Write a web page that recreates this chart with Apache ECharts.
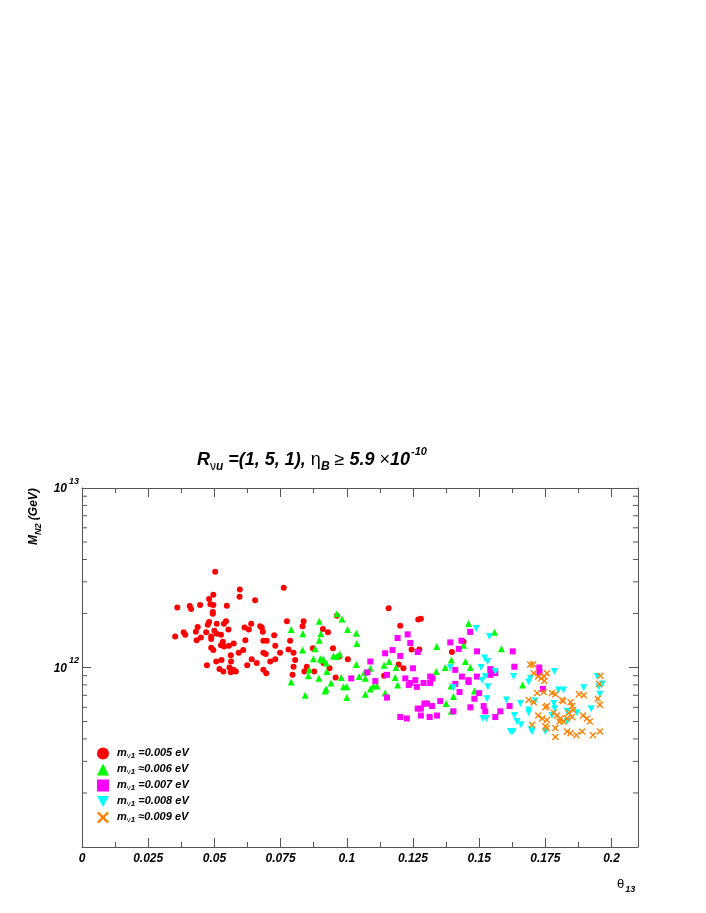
<!DOCTYPE html>
<html>
<head>
<meta charset="utf-8">
<script src="https://cdn.jsdelivr.net/npm/echarts@6/dist/echarts.min.js"></script>
<style>
  html, body { margin: 0; padding: 0; background: #fff; }
  #main { width: 706px; height: 913px; }
</style>
</head>
<body>
<div id="main"></div>
<script>
// theta13, M_N2 in units of 1e12 GeV
const red = [
  [0.0503,3.42],[0.0596,2.72],[0.0595,2.48],[0.0496,2.54],[0.048,2.41],[0.0485,2.25],[0.0496,2.23],[0.0446,2.23],
  [0.0407,2.20],[0.0412,2.12],[0.036,2.16],[0.0547,2.21],[0.0654,2.37],[0.0494,2.04],[0.0494,1.99],[0.048,1.79],
  [0.0509,1.75],[0.0536,1.75],[0.0544,1.81],[0.0475,1.73],[0.0437,1.68],[0.043,1.58],[0.0384,1.57],[0.039,1.52],
  [0.0352,1.49],[0.0433,1.42],[0.0449,1.47],[0.0469,1.57],[0.0488,1.49],[0.05,1.60],[0.0509,1.54],[0.0525,1.52],
  [0.0488,1.44],[0.0553,1.63],[0.0532,1.39],[0.0525,1.33],[0.0537,1.31],[0.0573,1.36],[0.0555,1.32],[0.0614,1.67],
  [0.063,1.63],[0.0639,1.75],[0.0617,1.42],[0.0488,1.29],[0.0496,1.25],[0.0609,1.25],[0.0592,1.21],[0.0562,1.17],
  [0.0507,1.08],[0.0527,1.10],[0.0563,1.08],[0.0641,1.11],[0.066,1.06],[0.0624,1.03],[0.0472,1.03],[0.0519,0.98],
  [0.0534,0.95],[0.0557,1.0],[0.0562,0.94],[0.0581,0.95],[0.0572,0.97],[0.0673,1.70],[0.0762,2.78],[0.0679,1.67],
  [0.0683,1.58],[0.0726,1.51],[0.0685,1.41],[0.0698,1.41],[0.073,1.32],[0.0685,1.21],[0.0694,1.19],[0.0748,1.21],
  [0.073,1.11],[0.0711,1.08],[0.0685,0.97],[0.0696,0.93],[0.0774,1.81],[0.0837,1.81],[0.0833,1.70],[0.0786,1.41],
  [0.078,1.26],[0.0799,1.21],[0.0805,1.10],[0.0799,1.01],[0.0849,1.01],[0.084,0.95],[0.0795,0.91],[0.0877,0.95],
  [0.0872,1.28],[0.091,1.64],[0.0929,1.57],[0.0948,1.28],[0.0935,0.99],[0.0912,1.06],[0.0958,0.88],[0.1004,1.11],
  [0.0971,1.15],[0.0963,1.94],[0.1158,2.14],[0.1202,1.71],[0.1245,1.26],[0.1274,1.26],[0.127,1.85],[0.128,1.87],
  [0.1214,0.99],[0.1196,1.04],[0.1141,0.90],[0.1397,1.22],[0.1441,1.39]
];
const green = [
  [0.0963,1.99],[0.0982,1.86],[0.0896,1.81],[0.079,1.63],[0.0834,1.54],[0.0902,1.54],[0.0896,1.42],[0.1003,1.63],
  [0.1036,1.55],[0.1038,1.36],[0.0833,1.25],[0.0881,1.27],[0.0874,1.12],[0.09,1.12],[0.0912,1.11],[0.0906,1.10],
  [0.0922,1.06],[0.095,1.16],[0.0963,1.15],[0.0973,1.19],[0.1036,1.04],[0.0858,0.97],[0.0855,0.90],[0.0895,0.87],
  [0.0925,0.95],[0.0941,0.82],[0.079,0.83],[0.0922,0.76],[0.0918,0.74],[0.0988,0.78],[0.1,0.78],[0.0979,0.88],
  [0.0843,0.70],[0.1,0.68],[0.1047,0.89],[0.1067,0.94],[0.107,0.87],[0.1089,0.99],[0.1089,0.76],[0.1101,0.79],
  [0.1114,0.79],[0.107,0.71],[0.1145,0.72],[0.1141,1.03],[0.116,1.08],[0.1186,1.0],[0.1183,0.88],[0.1192,0.80],
  [0.134,1.31],[0.1338,0.95],[0.146,1.76],[0.1558,1.57],[0.1441,1.33],[0.1584,1.27],[0.1395,1.10],[0.1448,1.08],
  [0.1372,1.0],[0.1467,1.0],[0.1394,0.79],[0.1403,0.69],[0.1482,0.74],[0.1375,0.63],[0.1395,0.57],[0.1664,0.80]
];
const magenta = [
  [0.123,1.53],[0.1192,1.46],[0.124,1.37],[0.1173,1.25],[0.1268,1.22],[0.1145,1.20],[0.1202,1.16],[0.1089,1.08],
  [0.125,0.99],[0.1152,0.91],[0.1078,0.94],[0.1017,0.87],[0.1108,0.84],[0.1221,0.87],[0.1234,0.80],[0.124,0.82],
  [0.1259,0.85],[0.129,0.82],[0.1265,0.78],[0.1315,0.89],[0.1324,0.87],[0.1315,0.82],[0.1152,0.68],[0.1391,1.38],
  [0.1433,1.41],[0.1423,1.27],[0.1466,1.58],[0.1492,1.23],[0.1627,1.23],[0.1633,1.01],[0.141,0.97],[0.1435,0.89],
  [0.1492,0.89],[0.1542,0.98],[0.1561,0.93],[0.1542,0.91],[0.146,0.85],[0.146,0.83],[0.141,0.81],[0.1426,0.73],
  [0.15,0.72],[0.1482,0.67],[0.1353,0.65],[0.1293,0.63],[0.1303,0.63],[0.1322,0.61],[0.1268,0.59],[0.128,0.59],
  [0.128,0.54],[0.1313,0.53],[0.1341,0.54],[0.1202,0.53],[0.1227,0.52],[0.1403,0.57],[0.1467,0.60],[0.1517,0.61],
  [0.1523,0.57],[0.1561,0.53],[0.158,0.57],[0.1615,0.61],[0.1727,1.0],[0.1728,0.94],[0.1741,0.76]
];
const cyan = [
  [0.1489,1.65],[0.1539,1.49],[0.1391,1.0],[0.1507,1.0],[0.1521,1.13],[0.1532,1.08],[0.1561,0.95],[0.1523,0.89],
  [0.1511,0.85],[0.1403,0.77],[0.1533,0.78],[0.163,0.89],[0.1687,0.83],[0.1693,0.87],[0.1784,0.95],[0.153,0.67],
  [0.1603,0.66],[0.1656,0.63],[0.1687,0.58],[0.1687,0.56],[0.1633,0.54],[0.1643,0.50],[0.1658,0.48],[0.1514,0.52],
  [0.1527,0.52],[0.1618,0.44],[0.1628,0.44],[0.1696,0.45],[0.17,0.44],[0.175,0.44],[0.1712,0.65],[0.1782,0.63],
  [0.1785,0.59],[0.18,0.75],[0.1819,0.75],[0.1832,0.57],[0.187,0.56],[0.1895,0.77],[0.1923,0.59],[0.1946,0.89],
  [0.1952,0.78],[0.1965,0.81],[0.1956,0.71],[0.1775,0.54],[0.1832,0.50]
];
const orange = [
  [0.1693,1.04],[0.1704,1.04],[0.1706,0.93],[0.1723,0.89],[0.1735,0.87],[0.1746,0.89],[0.1756,0.93],[0.1746,0.84],
  [0.1719,0.72],[0.1744,0.73],[0.1775,0.72],[0.1788,0.71],[0.1687,0.66],[0.1706,0.64],[0.175,0.60],[0.1756,0.61],
  [0.1813,0.66],[0.1817,0.65],[0.1845,0.64],[0.1851,0.61],[0.1877,0.71],[0.1895,0.70],[0.1723,0.54],[0.1738,0.52],
  [0.1756,0.51],[0.1782,0.56],[0.1794,0.54],[0.1807,0.52],[0.1819,0.50],[0.1832,0.52],[0.1804,0.50],[0.1838,0.56],
  [0.1851,0.53],[0.1855,0.58],[0.17,0.48],[0.175,0.47],[0.1756,0.46],[0.1788,0.46],[0.1788,0.41],[0.1832,0.44],
  [0.1845,0.43],[0.1867,0.42],[0.1889,0.44],[0.1892,0.54],[0.1907,0.52],[0.1918,0.50],[0.193,0.42],[0.1956,0.44],
  [0.1958,0.90],[0.1954,0.81],[0.1948,0.67],[0.1956,0.62]
];
const masses = ['0.005', '0.006', '0.007', '0.008', '0.009'];
const relations = ['=', '\u2248', '=', '=', '\u2248'];
const yTickLabels = { 1e12: '12', 1e13: '13' };
const yMinorTicks = [2,3,4,5,6,7,8,9].map(k => k * 1e11).concat([2,3,4,5,6,7,8,9].map(k => k * 1e12));

const FONT = '"Liberation Sans", Arial, Helvetica, sans-serif';
const axisColor = '#555';

function bi(size, extra) {
  return Object.assign({ fontFamily: FONT, fontSize: size, fontWeight: 'bold', fontStyle: 'italic', color: '#000' }, extra || {});
}
function plain(size, extra) {
  return Object.assign({ fontFamily: FONT, fontSize: size, color: '#000' }, extra || {});
}

const xMark = 'path://M0,1.4L1.4,0L5,3.6L8.6,0L10,1.4L6.4,5L10,8.6L8.6,10L5,6.4L1.4,10L0,8.6L3.6,5Z';
const downTri = 'path://M0,0L10,0L5,9Z';

const groups = [
  { data: red, color: '#ff0000', symbol: 'circle', size: 6 },
  { data: green, color: '#00ff00', symbol: 'triangle', size: 7 },
  { data: magenta, color: '#ff00ff', symbol: 'rect', size: 6 },
  { data: cyan, color: '#00ffff', symbol: downTri, size: 7 },
  { data: orange, color: '#ff8000', symbol: xMark, size: 7 }
];

let myChart = echarts.init(document.getElementById('main'));

const scatterSeries = groups.map((g, i) => ({
  name: relations[i] + masses[i],
  type: 'scatter',
  xAxisIndex: 0,
  yAxisIndex: 0,
  symbol: g.symbol,
  symbolSize: g.size,
  itemStyle: { color: g.color, opacity: 1 },
  data: g.data.map(p => [p[0], p[1] * 1e12]),
  z: 3 + i
}));

// log minor ticks on left and right frame
const minorTickSeries = {
  type: 'custom',
  xAxisIndex: 0,
  yAxisIndex: 0,
  silent: true,
  clip: false,
  data: yMinorTicks.map(v => [0, v]),
  renderItem: function (params, api) {
    const l = api.coord([0, api.value(1)]);
    const r = api.coord([0.21, api.value(1)]);
    return {
      type: 'group',
      children: [
        { type: 'line', shape: { x1: l[0], y1: l[1], x2: l[0] + 5, y2: l[1] }, style: { stroke: axisColor, lineWidth: 1 } },
        { type: 'line', shape: { x1: r[0] - 5, y1: r[1], x2: r[0], y2: r[1] }, style: { stroke: axisColor, lineWidth: 1 } }
      ]
    };
  }
};

const xBase = {
  type: 'value',
  min: 0,
  max: 0.21,
  interval: 0.025,
  splitLine: { show: false },
  axisLine: { onZero: false, lineStyle: { color: axisColor, width: 1 } },
  axisTick: { inside: true, length: 9, lineStyle: { color: axisColor } },
  minorTick: { show: true, splitNumber: 2, length: 5, lineStyle: { color: axisColor } },
  minorSplitLine: { show: false }
};
const yBase = {
  type: 'log',
  logBase: 10,
  min: 1e11,
  max: 1e13,
  splitLine: { show: false },
  axisLine: { onZero: false, lineStyle: { color: axisColor, width: 1 } },
  axisTick: { inside: true, length: 9, lineStyle: { color: axisColor } }
};

const option = {
  backgroundColor: '#fff',
  animation: false,
  grid: { left: 82, right: 68, top: 488, bottom: 66, containLabel: false },
  xAxis: [
    Object.assign({}, xBase, {
      position: 'bottom',
      axisLabel: {
        margin: 6,
        showMaxLabel: false,
        fontFamily: FONT, fontSize: 12, fontWeight: 'bold', fontStyle: 'italic', color: '#000',
        formatter: v => (v > 0.2001 ? '' : String(+v.toFixed(3)))
      }
    }),
    Object.assign({}, xBase, { position: 'top', axisLabel: { show: false } })
  ],
  yAxis: [
    Object.assign({}, yBase, {
      position: 'left',
      axisLabel: {
        margin: 3,
        formatter: v => (yTickLabels[v] ? '{b|10}{s|' + yTickLabels[v] + '}' : ''),
        rich: {
          b: bi(12, { verticalAlign: 'bottom', lineHeight: 14 }),
          s: bi(9, { verticalAlign: 'bottom', lineHeight: 10, padding: [0, 0, 9, 2] })
        }
      }
    }),
    Object.assign({}, yBase, { position: 'right', axisLabel: { show: false } })
  ],
  legend: {
    orient: 'vertical',
    left: 92,
    top: 742,
    itemWidth: 12,
    itemHeight: 12,
    itemGap: 3,
    data: groups.map((g, i) => ({ name: relations[i] + masses[i], icon: g.symbol })),
    formatter: function (name) {
      const rel = name.charAt(0);
      const m = name.slice(1);
      return '{m|m}{n|\u03bd}{o|1}{t| ' + rel + m + ' eV}';
    },
    textStyle: {
      rich: {
        m: bi(11, { verticalAlign: 'bottom', lineHeight: 13, padding: [0, 0, 2, 3] }),
        n: plain(8, { verticalAlign: 'bottom', lineHeight: 9 }),
        o: bi(8, { verticalAlign: 'bottom', lineHeight: 9 }),
        t: bi(11, { verticalAlign: 'bottom', lineHeight: 13, padding: [0, 0, 2, 0] })
      }
    }
  },
  graphic: [
    {
      type: 'text',
      left: 197,
      top: 446,
      style: {
        text: '{t|R}{n|\u03bd}{u|u}{t| =(1, 5, 1), }{g|\u03b7}{u|B}{g| \u2265 }{t|5.9 }{g|\u00d7}{t|10}{sp|-10}',
        rich: {
          t: bi(18, { verticalAlign: 'bottom', lineHeight: 20, padding: [0, 0, 4, 0] }),
          g: plain(18, { verticalAlign: 'bottom', lineHeight: 20, padding: [0, 0, 4, 0] }),
          n: plain(12, { verticalAlign: 'bottom', lineHeight: 13 }),
          u: bi(12, { verticalAlign: 'bottom', lineHeight: 13 }),
          sp: bi(11, { verticalAlign: 'bottom', lineHeight: 12, padding: [0, 0, 16, 1] })
        }
      }
    },
    {
      type: 'text',
      x: 36,
      y: 545,
      rotation: Math.PI / 2,
      style: {
        text: '{t|M}{u|N2}{t| (GeV)}',
        verticalAlign: 'middle',
        align: 'left',
        rich: {
          t: bi(12, { verticalAlign: 'bottom', lineHeight: 14, padding: [0, 0, 3, 0] }),
          u: bi(9, { verticalAlign: 'bottom', lineHeight: 10 })
        }
      }
    },
    {
      type: 'text',
      left: 617,
      top: 878,
      style: {
        text: '{g|\u03b8}{u|13}',
        rich: {
          g: plain(13, { verticalAlign: 'bottom', lineHeight: 15, padding: [0, 1, 3, 0] }),
          u: bi(9, { verticalAlign: 'bottom', lineHeight: 10 })
        }
      }
    }
  ],
  series: scatterSeries.concat([minorTickSeries])
};

myChart.setOption(option);
</script>
</body>
</html>
